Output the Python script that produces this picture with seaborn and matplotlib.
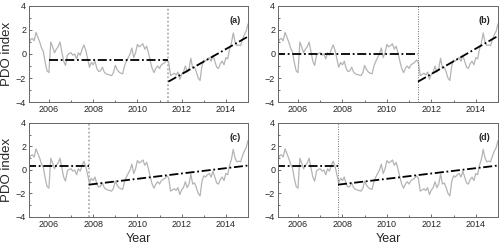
import numpy as np
import pandas as pd
import matplotlib
matplotlib.use('Agg')
import matplotlib.pyplot as plt
import seaborn as sns
from matplotlib.ticker import MultipleLocator

sns.set_style('white')
plt.rcParams['font.family'] = ['Liberation Sans', 'DejaVu Sans']

# monthly PDO index, Jan 2005 .. Jan 2015
pdo = [0.6, 0.75, 1.2, 1.3, 1.1, 1.8, 1.4, 1.0, 0.5, 0.2, -0.7, -1.4,
       -1.55, 1.0, 0.6, 0.1, 0.4, 0.6, 1.0, 0.2, -0.6, -0.95, -0.1, 0.05,
       0.1, -0.1, 0.0, -0.4, 0.1, -0.1, 0.4, 0.75, 0.3, -0.4, -1.1, -0.7,
       -0.9, -0.6, -1.2, -1.45, -1.4, -1.1, -1.5, -1.65, -1.7, -1.75, -1.8, -1.55,
       -0.95, -1.3, -1.5, -1.6, -1.65, -1.0, -0.6, -0.3, 0.0, 0.5, -0.3, 0.1,
       0.8, 0.6, 0.7, 0.85, 0.4, 0.65, 0.1, -0.6, -1.2, -1.55, -1.2, -1.0,
       -1.2, -0.9, -0.8, -0.7, -0.5, -0.7, -1.8, -1.7, -1.6, -1.75, -1.5, -2.1,
       -1.7, -1.5, -1.0, -1.5, -1.2, -0.35, -1.2, -1.1, -1.5, -2.0, -2.2, -1.0,
       -0.5, -0.6, -0.4, -0.3, -0.6, -0.1, -0.6, -1.1, -1.2, -0.8, -0.6, -0.9,
       -0.3, -0.4, 0.4, 0.9, 1.75, 1.0, 0.7, 0.75, 0.7, 1.2, 1.6, 1.9,
       2.5]
years = 2005 + np.arange(len(pdo)) / 12.0

panel_tags = ['(a)', '(b)', '(c)', '(d)']
break_year = [2011.4, 2011.4, 2007.8, 2007.8]
# flat segment before the break: start year, level
flat_start = [2006.0, 2005.0, 2005.0, 2005.0]
flat_level = [-0.5, 0.0, 0.35, 0.38]
# trend after the break: value at break, value at 2015
trend_start = [-2.3, -2.3, -1.25, -1.25]
trend_end = [1.45, 1.5, 0.38, 0.38]
end_year = 2015.0

df = pd.DataFrame({'Year': years, 'PDO': pdo})

fig = plt.figure(figsize=(5.0, 2.46), dpi=100)
boxes = [
    [0.058, 0.585, 0.438, 0.391],
    [0.556, 0.585, 0.440, 0.391],
    [0.058, 0.118, 0.438, 0.382],
    [0.556, 0.118, 0.440, 0.382],
]

for k, box in enumerate(boxes):
    ax = fig.add_axes(box)
    sns.lineplot(data=df, x='Year', y='PDO', ax=ax, color='#b4b4b4', lw=0.9)

    # break line
    if k in (0, 2):
        ax.axvline(break_year[k], color='#b0b0b0', lw=1.3, ls=(0, (1, 1.2)))
    else:
        ax.axvline(break_year[k], color='#707070', lw=0.7, ls=(0, (1, 1.5)))

    dd = (0, (5, 1.5, 1, 1.5))
    ax.plot([flat_start[k], break_year[k]], [flat_level[k], flat_level[k]],
            color='black', lw=1.3, ls=dd)
    ax.plot([break_year[k], end_year], [trend_start[k], trend_end[k]],
            color='black', lw=1.3, ls=dd)

    ax.set_xlim(2005.1, 2015.0)
    ax.set_ylim(-4, 4)
    ax.xaxis.set_major_locator(MultipleLocator(2))
    ax.xaxis.set_minor_locator(MultipleLocator(1))
    ax.yaxis.set_major_locator(MultipleLocator(2))
    ax.yaxis.set_minor_locator(MultipleLocator(1))
    ax.set_xticks([2006, 2008, 2010, 2012, 2014])
    ax.tick_params(which='both', direction='in', color='#555555',
                   labelsize=6.5, pad=2, width=0.6)
    ax.tick_params(which='major', length=2.5)
    ax.tick_params(which='minor', length=1.5)
    ax.tick_params(axis='x', which='both', top=False)
    ax.tick_params(axis='y', which='both', left=True, right=False)
    ax.tick_params(axis='x', which='both', bottom=True)
    for sp in ax.spines.values():
        sp.set_color('#666666')
        sp.set_linewidth(0.7)

    ax.text(0.94, 0.85, panel_tags[k], transform=ax.transAxes,
            ha='center', va='center', fontsize=6.5, fontweight='bold')

    if k in (0, 2):
        ax.set_ylabel('PDO index', fontsize=9.5, labelpad=2)
    else:
        ax.set_ylabel('')
    if k in (2, 3):
        ax.set_xlabel('Year', fontsize=9, labelpad=3)
    else:
        ax.set_xlabel('')

fig.savefig('out.png', dpi=100)
